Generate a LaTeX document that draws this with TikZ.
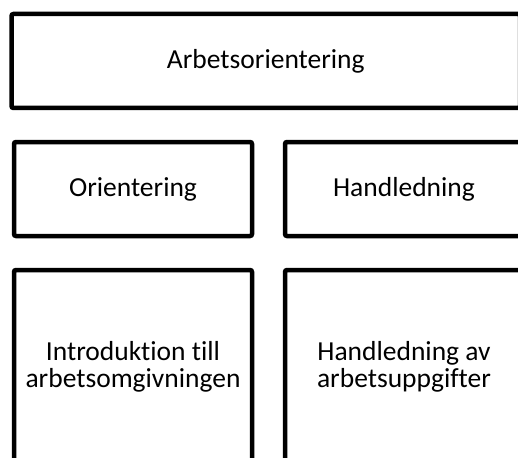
\documentclass[tikz,border=0pt]{standalone}
\usepackage{fontspec}
\setmainfont{Carlito}[Ligatures={NoCommon}]
\begin{document}
\begin{tikzpicture}[x=1pt,y=-1pt,
  box/.style={draw=black, line width=4.5pt, rounded corners=2pt, fill=white,
    align=center, inner sep=0pt, outer sep=0pt,
    font=\fontsize{27.5}{27.5}\selectfont},
  wide/.style={box, minimum width=508.5pt, minimum height=94pt},
  mid/.style={box, minimum width=238pt, minimum height=94pt},
  tall/.style={box, minimum width=238pt, minimum height=194pt}]
  \useasboundingbox (0,0) rectangle (518,457);
  \clip (0,0) rectangle (518,457);
  \fill[white] (0,0) rectangle (518,457);
  % top heading box
  \node[wide] (top) at (265.75,61) {Arbetsorientering};
  % second row
  \node[mid] (orient) at (133,189) {Orientering};
  \node[mid] (handl) at (404,189) {Handledning};
  % third row
  \node[tall] (intro) at (133,367) {Introduktion till\\arbetsomgivningen};
  \node[tall] (uppg) at (404,367) {Handledning av\\arbetsuppgifter};
\end{tikzpicture}
\end{document}
